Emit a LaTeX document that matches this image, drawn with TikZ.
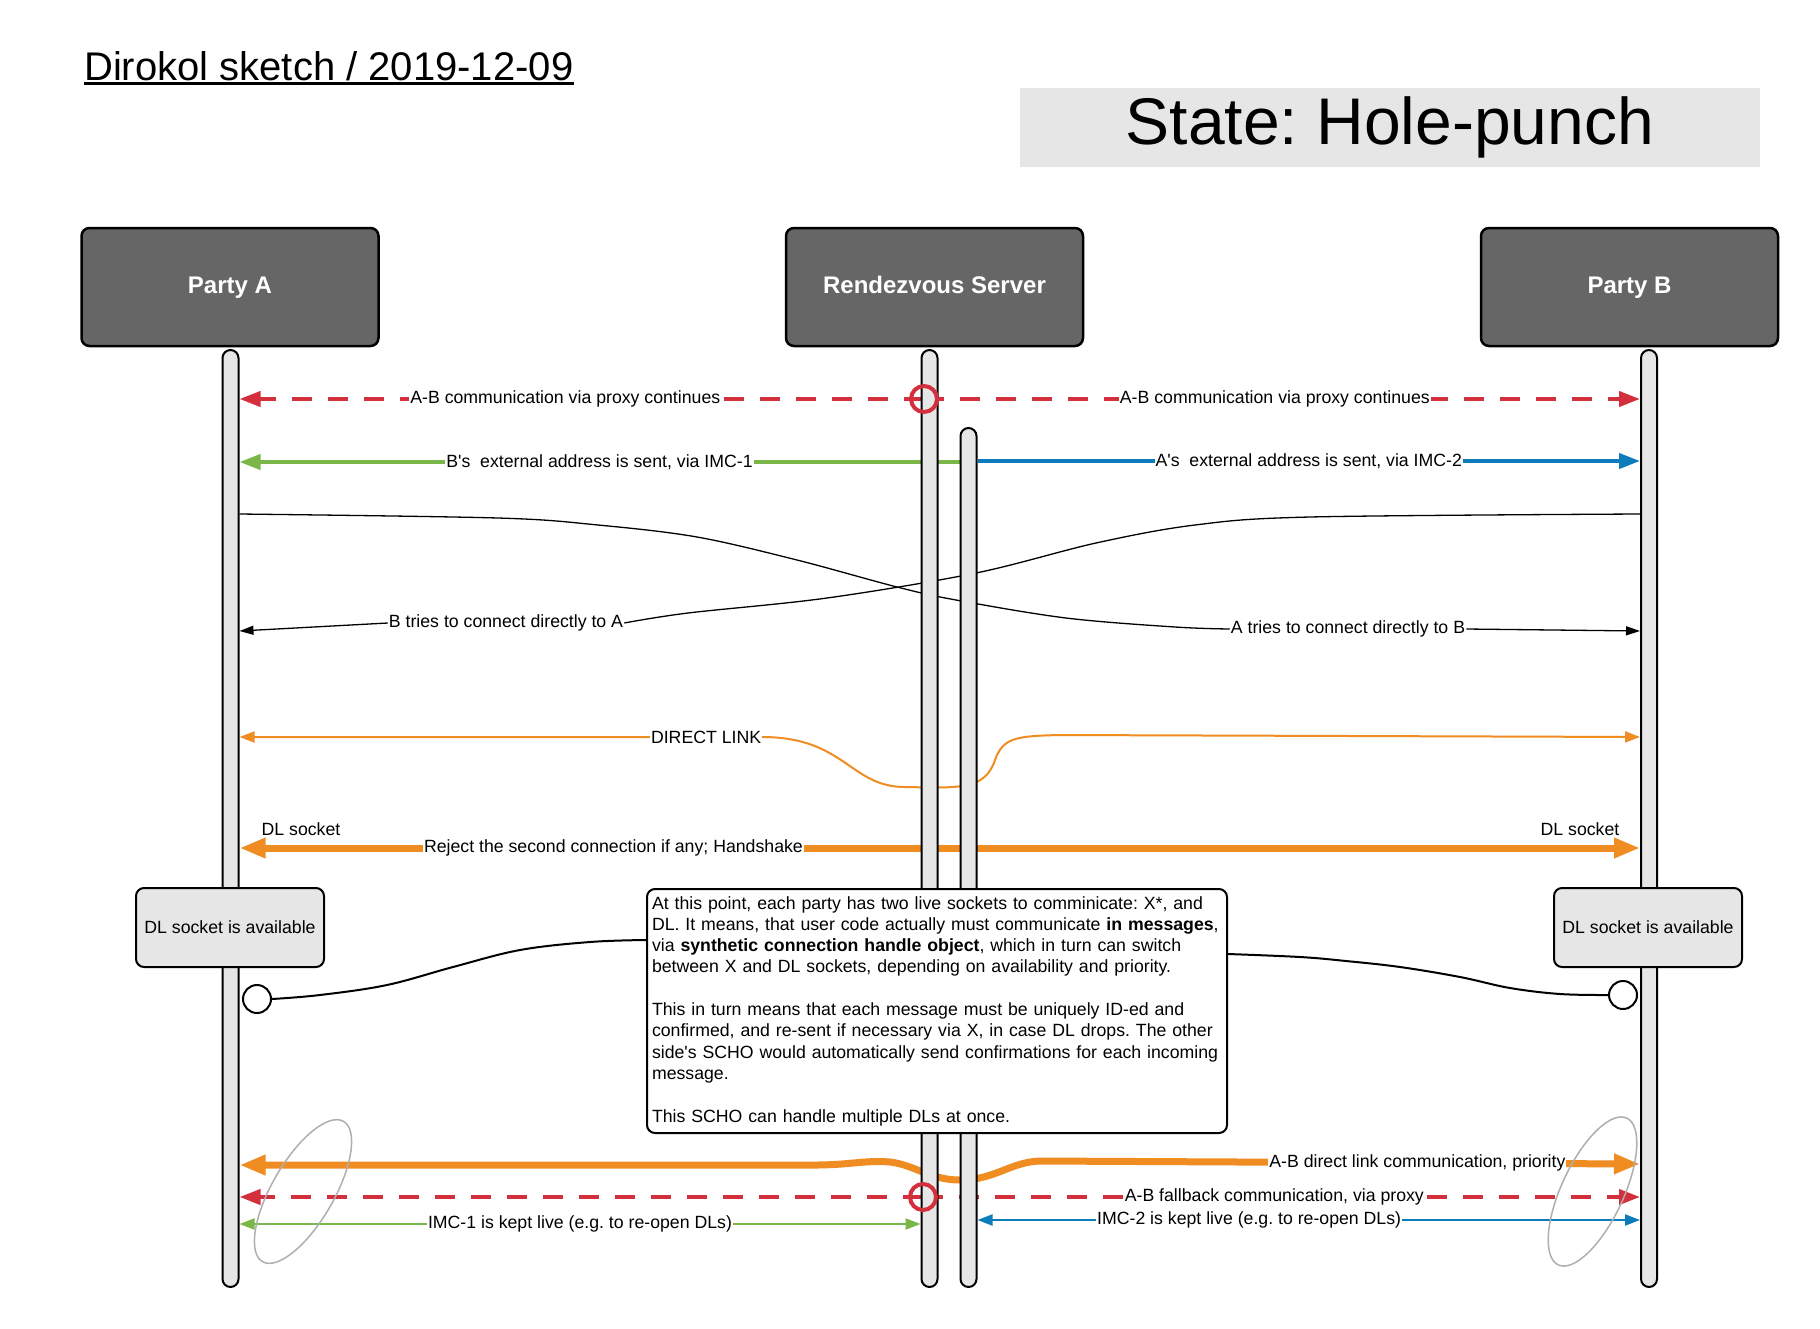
\documentclass[tikz,border=0pt]{standalone}
\usepackage{fontspec}
\setmainfont{Liberation Sans}
\newfontfamily\lsans{Liberation Sans}
\usetikzlibrary{arrows.meta,calc,shapes.geometric}
\definecolor{lred}{RGB}{211,47,60}
\definecolor{lgreen}{RGB}{122,182,72}
\definecolor{lblue}{RGB}{12,124,186}
\definecolor{lorange}{RGB}{239,141,34}
\definecolor{headfill}{RGB}{102,102,102}
\definecolor{barfill}{RGB}{230,230,230}
\definecolor{ellgray}{RGB}{175,175,175}
\pgfdeclarelayer{bg}
\pgfsetlayers{bg,main}
\newcommand{\lblfont}{\lsans\fontsize{17.7pt}{21.3pt}\selectfont\frenchspacing}
\begin{document}
\begin{tikzpicture}[x=1pt,y=-1pt,
  headbox/.style={draw=black,line width=2.5pt,fill=headfill,rounded corners=8pt,
    minimum width=297pt,minimum height=118pt,text=white,text height=17.5pt,text depth=5pt,
    font=\lsans\fontsize{24pt}{28pt}\selectfont\bfseries},
  lifebar/.style={draw=black,line width=2pt,fill=barfill,rounded corners=8pt,
    minimum width=16pt,inner sep=0pt},
  lbl/.style={fill=white,inner sep=1pt,font=\lblfont,text=black},
  plain/.style={inner sep=1pt,font=\lblfont,text=black},
  redcirc/.style={circle,draw=lred,line width=4pt,minimum size=26pt,inner sep=0pt},
  reddash/.style={draw=lred,line width=4pt,dash pattern=on 20pt off 16pt},
  gthick/.style={draw=lgreen,line width=4pt},
  bthick/.style={draw=lblue,line width=4pt},
  gthin/.style={draw=lgreen,line width=2pt},
  bthin/.style={draw=lblue,line width=2pt},
  othick/.style={draw=lorange,line width=7pt},
  othin/.style={draw=lorange,line width=2pt},
  kthin/.style={draw=black,line width=1.3pt},
  dlbox/.style={draw=black,line width=2pt,fill=barfill,rounded corners=8pt,
    minimum width=188pt,minimum height=79pt,font=\lblfont},
  sockc/.style={circle,draw=black,line width=2pt,fill=white,minimum size=28pt,inner sep=0pt},
  notebox/.style={draw=black,line width=2pt,fill=white,rounded corners=8pt,anchor=north west,
    minimum width=580pt,minimum height=244pt,text width=570pt,inner xsep=5pt,inner ysep=0pt,
    align=left,font=\lblfont},
  ell/.style={ellipse,draw=ellgray,line width=1.5pt,minimum width=162pt,minimum height=62pt,inner sep=0pt}
]
\begin{pgfonlayer}{bg}
\fill[white] (0,0) rectangle (1820,1328);
\end{pgfonlayer}
\useasboundingbox (0,0) rectangle (1820,1328);

% title and state
\node[anchor=base west,inner sep=0pt,font=\lsans\fontsize{40pt}{48pt}\selectfont] (title) at (84,80) {Dirokol sketch / 2019-12-09};
\draw[line width=3pt] ([yshift=-3pt]title.base west) -- ([yshift=-3pt]title.base east);
\node[fill=barfill,minimum width=740pt,minimum height=79pt,inner sep=0pt,
  font=\lsans\fontsize{66pt}{72pt}\selectfont\frenchspacing] (state) at (1390,127.5) {State: Hole-punch};

% lifelines
\node[lifebar,minimum height=937pt] (barA) at (230.5,818.5) {};
\node[lifebar,minimum height=937pt] (barS1) at (929.5,818.5) {};
\node[lifebar,minimum height=859pt] (barS2) at (968.5,857.5) {};
\node[lifebar,minimum height=937pt] (barB) at (1649,818.5) {};

% heads
\node[headbox] (hA) at (230,287) {Party A};
\node[headbox] (hS) at (934.5,287) {Rendezvous Server};
\node[headbox] (hB) at (1629.5,287) {Party B};

% proxy circles
\node[redcirc] (rc1) at (924,399) {};
\node[redcirc] (rc2) at (923,1197) {};

% endpoints
\coordinate (A1) at (barA.east |- 0,399);
\coordinate (B1) at (barB.west |- 0,399);
\coordinate (A2) at (barA.east |- 0,462);
\coordinate (S2W2) at (barS2.west |- 0,462);
\coordinate (S2E2) at (barS2.east |- 0,461);
\coordinate (B2) at (barB.west |- 0,461);
\coordinate (Ab3) at (barA.east |- 0,514);
\coordinate (Bb3) at (barB.west |- 0,514);
\coordinate (A3) at (barA.east |- 0,631);
\coordinate (B3) at (barB.west |- 0,631);
\coordinate (A4) at (barA.east |- 0,737);
\coordinate (B4) at (barB.west |- 0,737);
\coordinate (A5) at (barA.east |- 0,848);
\coordinate (B5) at (barB.west |- 0,848);
\coordinate (A6) at (barA.east |- 0,1165);
\coordinate (B6) at (barB.west |- 0,1164);
\coordinate (A7) at (barA.east |- 0,1197);
\coordinate (B7) at (barB.west |- 0,1197);
\coordinate (A8) at (barA.east |- 0,1224);
\coordinate (S1W8) at (barS1.west |- 0,1224);
\coordinate (S2E9) at (barS2.east |- 0,1220);
\coordinate (B9) at (barB.west |- 0,1220);

\begin{pgfonlayer}{bg}
% proxy (top)
\draw[reddash,-{Triangle[length=21pt,width=15pt]}] (rc1.center) -- node[lbl,pos=0.524]{A-B communication via proxy continues} (A1);
\draw[reddash,-{Triangle[length=21pt,width=15pt]}] (rc1.center) -- node[lbl,pos=0.49]{A-B communication via proxy continues} (B1);
% external addresses
\draw[gthick,-{Triangle[length=21pt,width=15pt]}] (S2W2) -- node[lbl,pos=0.5]{B's\ \ external address is sent, via IMC-1} (A2);
\draw[bthick,-{Triangle[length=21pt,width=15pt]}] (S2E2) -- node[lbl,pos=0.5]{A's\ \ external address is sent, via IMC-2} (B2);
% direct connection tries
\node[lbl] (lAB) at (1348,629) {A tries to connect directly to B};
\node[lbl] (lBA) at (506,623) {B tries to connect directly to A};
\draw[kthin] plot[smooth,tension=0.55] coordinates {(Ab3) (498,518) (598,525) (697,537) (797,560) (897,587) (956,600) (1066,618) (1175,627) (lAB.west)};
\draw[kthin,-{Triangle[length=14pt,width=9pt]}] (lAB.east) -- (B3);
\draw[kthin] plot[smooth,tension=0.55] coordinates {(Bb3) (1310,517) (1195,525) (1096,543) (976,573) (827,598) (688,613) (lBA.east)};
\draw[kthin,-{Triangle[length=14pt,width=9pt]}] (lBA.west) -- (A3);
% direct link
\draw[othin,{Triangle[length=15pt,width=11pt]}-{Triangle[length=15pt,width=11pt]}] (A4) -- node[lbl,pos=0.893]{DIRECT LINK} (762,737)
  .. controls (845,737) and (850,787) .. (905,787)
  .. controls (960,788) and (985,790) .. (995,760)
  .. controls (1003,738) and (1015,736) .. (1060,735) -- (B4);
% handshake
\draw[othick,{Triangle[length=26pt,width=19pt]}-{Triangle[length=26pt,width=19pt]}] (A5) -- node[lbl,pos=0.267]{Reject the second connection if any; Handshake} (B5);
% bottom: direct link priority
\draw[othick,{Triangle[length=26pt,width=19pt]}-{Triangle[length=26pt,width=19pt]}] (A6) -- (815,1165)
  .. controls (850,1165) and (865,1160) .. (890,1162)
  .. controls (915,1165) and (930,1180) .. (960,1180)
  .. controls (995,1180) and (1010,1162) .. (1040,1161)
  -- node[lbl,pos=0.629]{A-B direct link communication, priority} (B6);
% bottom: fallback
\draw[reddash,-{Triangle[length=21pt,width=15pt]}] (rc2.center) -- (A7);
\draw[reddash,-{Triangle[length=21pt,width=15pt]}] (rc2.center) -- node[lbl,pos=0.49]{A-B fallback communication, via proxy} (B7);
% bottom: IMC keep-alive
\draw[gthin,{Triangle[length=15pt,width=11pt]}-{Triangle[length=15pt,width=11pt]}] (A8) -- node[lbl,pos=0.5]{IMC-1 is kept live (e.g. to re-open DLs)} (S1W8);
\draw[bthin,{Triangle[length=15pt,width=11pt]}-{Triangle[length=15pt,width=11pt]}] (S2E9) -- node[lbl,pos=0.41]{IMC-2 is kept live (e.g. to re-open DLs)} (B9);
\end{pgfonlayer}

% DL socket labels
\node[plain] (dlsA) at (301,829) {DL socket};
\node[plain] (dlsB) at (1580,829) {DL socket};

% DL socket available boxes and sockets
\node[dlbox] (dlA) at (230,927.5) {DL socket is available};
\node[dlbox] (dlB) at (1648,927.5) {DL socket is available};
\node[sockc] (cA) at (257,999) {};
\node[sockc] (cB) at (1623,995) {};

% note
\node[notebox] (note) at (646,888) {%
\mbox{At this point, each party has two live sockets to comminicate: X*, and}\\
\mbox{DL. It means, that user code actually must communicate \textbf{in messages},}\\
\mbox{via \textbf{synthetic connection handle object}, which in turn can switch}\\
\mbox{between X and DL sockets, depending on availability and priority.}\\[21.3pt]
\mbox{This in turn means that each message must be uniquely ID-ed and}\\
\mbox{confirmed, and re-sent if necessary via X, in case DL drops. The other}\\
\mbox{side's SCHO would automatically send confirmations for each incoming}\\
\mbox{message.}\\[21.3pt]
\mbox{This SCHO can handle multiple DLs at once.}};
\coordinate (nL) at (note.west |- 0,940);
\coordinate (nR) at (note.east |- 0,954);
\draw[line width=2pt] plot[smooth,tension=0.6] coordinates {(cA.east) (320,995) (387,985) (453,967) (520,950) (590,942) (nL)};
\draw[line width=2pt] plot[smooth,tension=0.6] coordinates {(nR) (1300,957) (1346,961) (1400,967) (1460,977) (1510,988) (1560,994) (cB.west)};

% highlight ellipses
\node[ell,rotate=60] (eL) at (303,1191.5) {};
\node[ell,rotate=65] (eR) at (1592.5,1191.5) {};
\end{tikzpicture}
\end{document}
